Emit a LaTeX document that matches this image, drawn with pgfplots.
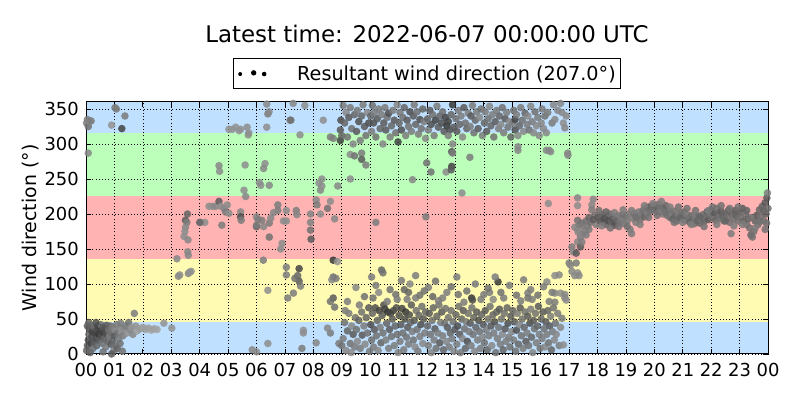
\documentclass[border=0pt]{standalone}
\usepackage{fontspec}
\setmainfont{DejaVu Sans}
\usepackage{pgfplots}
\pgfplotsset{compat=1.18}
\definecolor{bandblue}{RGB}{191,224,255}
\definecolor{bandgreen}{RGB}{187,255,187}
\definecolor{bandred}{RGB}{255,179,179}
\definecolor{bandyellow}{RGB}{255,251,179}
\begin{document}
\begin{tikzpicture}
\path[use as bounding box] (0,0) rectangle (800bp,400bp);
\begin{axis}[
  at={(86bp,46bp)}, anchor=south west, scale only axis,
  width=682bp, height=252bp,
  xmin=0, xmax=24, ymin=0, ymax=360,
  xtick={0,1,...,24},
  xticklabels={00,01,02,03,04,05,06,07,08,09,10,11,12,13,14,15,16,17,18,19,20,21,22,23,00},
  ytick={0,50,...,350},
  axis on top,
  grid=major,
  major grid style={black, line width=0.6bp, dash pattern=on 1bp off 2.2bp},
  tick style={black, line width=0.8bp},
  major tick length=5bp,
  axis line style={black, line width=1bp},
  ticklabel style={font=\fontsize{18}{21}\selectfont, inner sep=1bp},
  xticklabel style={yshift=-8bp},
  yticklabel style={xshift=-6bp},
  /pgf/number format/assume math mode=true,
  ylabel={Wind direction (°)},
  ylabel style={font=\fontsize{19}{22}\selectfont, at={(axis description cs:-0.082,0.5)}, anchor=center},
  colormap={wd}{gray(0cm)=(0.22); gray(1cm)=(0.66)},
  point meta min=0, point meta max=1,
  legend style={at={(0.5,1)}, anchor=south, yshift=13bp, draw=black, line width=1bp,
    font=\fontsize{19.3}{22}\selectfont, inner xsep=5bp, inner ysep=7bp,
    nodes={inner sep=0bp}},
]
\addplot[fill=bandblue, draw=none, forget plot] coordinates {(0,0) (24,0) (24,45) (0,45)} -- cycle;
\addplot[fill=bandyellow, draw=none, forget plot] coordinates {(0,45) (24,45) (24,135) (0,135)} -- cycle;
\addplot[fill=bandred, draw=none, forget plot] coordinates {(0,135) (24,135) (24,225) (0,225)} -- cycle;
\addplot[fill=bandgreen, draw=none, forget plot] coordinates {(0,225) (24,225) (24,315) (0,315)} -- cycle;
\addplot[fill=bandblue, draw=none, forget plot] coordinates {(0,315) (24,315) (24,360) (0,360)} -- cycle;

\addplot[scatter, only marks, point meta=explicit, mark=*, mark size=3.8bp,
  scatter/use mapped color={draw opacity=0, fill=mapped color, fill opacity=0.85},
  legend image code/.code={
    \path[draw=none, fill=none] (-1bp,-2bp) rectangle (57bp,2bp);
    \fill[black, draw=none, fill opacity=1] (0bp,-0.6bp) circle (2bp);
    \fill[black, draw=none, fill opacity=1] (13.5bp,0.6bp) circle (2.7bp);
    \fill[black, draw=none, fill opacity=1] (24bp,-0.6bp) circle (2.3bp);}]
coordinates {
(0.02,5)[.4](0.05,12)[.3](0.08,20)[.2](0.1,28)[.5](0.12,35)[.3](0.15,40)[.6](0.18,15)[.1](0.2,25)[.2](0.22,32)[.1](0.25,8)[.5]
(0.28,18)[.3](0.3,38)[.4](0.33,30)[.1](0.35,22)[.2](0.38,12)[.4](0.4,35)[.2](0.42,40)[.1](0.45,28)[0](0.48,20)[.3](0.5,33)[.1]
(0.52,42)[.5](0.55,25)[.2](0.58,15)[.5](0.6,38)[.3](0.62,30)[.1](0.65,22)[.4](0.68,36)[.2](0.7,10)[.6](0.72,41)[.3](0.75,28)[.2]
(0.78,18)[.4](0.8,34)[.5](0.82,25)[.6](0.85,40)[.4](0.88,14)[.3](0.9,30)[.5](0.92,38)[.6](0.95,20)[.4](0.98,5)[.6](1.0,26)[.3]
(1.02,35)[.7](1.05,12)[.5](1.08,42)[.6](1.1,8)[.4](1.12,30)[.5](1.15,22)[.6](1.18,38)[.7](1.2,15)[.5](1.22,44)[.6](1.25,32)[.8]
(1.28,4)[.5](1.3,26)[.6](1.35,36)[.7](1.4,40)[.6](1.45,30)[.8](1.5,45)[.5](1.55,35)[.7](1.6,38)[.8](1.65,28)[.7](1.7,58)[.6]
(1.75,40)[.8](1.8,33)[.9](1.9,36)[.85](2.0,38)[.9](2.1,35)[.9](2.2,37)[.9](2.3,34)[.95](2.4,36)[.9](2.5,35)[.95](2.74,44)[.8](3.02,37)[.8]
(0.15,2)[.4](0.6,3)[.5](0.9,0)[.3](0.35,45)[.2](0.05,40)[.3](0.1,45)[.4]
(0.02,330)[.6](0.05,335)[.6](0.08,325)[.5](0.12,332)[.7](0.18,333)[.6](0.08,287)[.7]
(0.9,327)[.8](1.02,352)[.6](1.07,350)[.6](1.37,340)[.6](1.26,322)[.1]
(3.2,136)[.7](3.25,111)[.7](3.3,113)[.75](3.6,115)[.7](3.65,117)[.75](3.7,118)[.8]
(3.57,200)[.4](3.5,191)[.3](3.55,188)[.6](3.5,181)[.7](3.48,175)[.75](3.45,168)[.75](3.59,163)[.7](3.58,146)[.7](3.6,141)[.7]
(4.03,188)[.75](4.18,188)[.75](4.0,188)[.4](4.78,184)[.6]
(4.33,211)[.75](4.45,211)[.75](4.56,211)[.7](4.68,218)[.3](4.74,211)[.75](4.86,208)[.7](4.97,213)[.75](4.91,203)[.6](5.03,201)[.75]
(5.44,203)[.7](5.44,196)[.2](5.46,191)[.6](6.0,196)[.7](6.0,182)[.3](6.19,191)[.6]
(4.68,269)[.7](4.7,261)[.75](5.6,270)[.75](5.56,234)[.75](5.62,225)[.7]
(5.03,321)[.8](5.15,321)[.8](5.27,324)[.8](5.39,319)[.8](5.44,321)[.8](5.67,324)[.75](5.73,316)[.8](5.71,313)[.75]
(5.85,6)[.7](6.0,3)[.75]
(6.36,357)[.7](6.4,343)[.6](6.36,324)[.75](7.18,334)[.6](7.7,355)[.75](8.35,334)[.75](7.53,313)[.75](8.6,310)[.6](8.7,308)[.6]
(7.29,358)[.7](7.21,334)[.5](6.44,346)[.7]
(6.3,272)[.75](6.25,265)[.7](6.1,245)[.75](6.15,241)[.75](6.45,241)[.7]
(8.25,234)[.7](8.2,244)[.75](8.3,240)[.75](8.3,250)[.75](8.86,240)[.7]
(9.3,285)[.75](9.45,283)[.5](9.7,287)[.6](9.7,278)[.3](9.85,270)[.6](9.3,250)[.75]
(8.95,305)[.1](8.95,320)[.3](8.97,334)[.2](9.0,312)[.4]
(6.0,184)[.6](6.25,182)[.7](6.45,187)[.6](6.5,194)[.7](6.05,192)[.6](6.45,167)[.5](6.9,158)[.75](6.85,150)[.75](6.24,134)[.6]
(6.75,213)[.6](6.75,205)[.6](7.05,205)[.75](7.05,190)[.75](6.6,202)[.7](6.95,190)[.75]
(7.9,200)[.7](7.9,188)[.65](7.9,177)[.5](7.92,164)[.3](8.25,200)[.75](8.5,208)[.5](8.75,193)[.7](7.4,205)[.6](7.42,199)[.7]
(8.1,220)[.7](8.13,213)[.6](8.6,218)[.75]
(7.05,124)[.6](7.05,113)[.6](7.5,122)[.1](7.45,112)[.4](7.5,104)[.3](7.55,97)[.6](7.35,108)[.5]
(7.3,87)[.6](7.1,80)[.6](6.4,91)[.75]
(8.7,134)[0](8.85,132)[.8](8.7,110)[.5](8.65,106)[.7](8.8,108)[.6]
(8.7,80)[.3](8.6,75)[.5](8.75,67)[.5]
(7.65,34)[.8](7.65,30)[.75](8.6,30)[.6](8.5,37)[.7](8.1,16)[.7](8.9,15)[.6](9.0,12)[.5](7.6,8)[.6](6.4,15)[.75]
(9.05,22)[.6](9.1,45)[.5](9.15,5)[.7](9.2,33)[.4](9.25,58)[.6](9.3,15)[.5](9.35,40)[.7](9.4,28)[.3](9.45,10)[.6](9.48,52)[.5](9.12,62)[.6](9.33,2)[.75]
(9.52,35)[.5](9.55,18)[.7](9.6,48)[.4](9.65,8)[.6](9.7,60)[.5](9.72,27)[.3](9.78,40)[.6](9.82,14)[.7](9.86,52)[.4](9.9,30)[.5](9.95,66)[.3](9.98,4)[.6](9.62,70)[.6]
(10.02,42)[.2](10.05,20)[.5](10.08,58)[.4](10.12,10)[.6](10.15,35)[.3](10.18,66)[.2](10.22,26)[.5](10.25,48)[.4](10.28,5)[.7](10.32,62)[.1](10.35,38)[.6](10.38,16)[.4](10.42,55)[.3](10.45,30)[.5](10.48,70)[.2](10.1,80)[.5](10.3,88)[.7]
(10.52,64)[.1](10.55,20)[.6](10.58,44)[.4](10.62,60)[0](10.65,8)[.6](10.68,35)[.3](10.72,58)[.1](10.75,25)[.5](10.78,50)[.3](10.82,62)[.1](10.85,12)[.6](10.88,40)[.4](10.92,66)[.2](10.95,28)[.5](10.98,2)[.7](10.6,75)[.6](10.9,85)[.5]
(11.02,55)[.2](11.05,18)[.6](11.08,42)[.3](11.12,65)[.1](11.15,30)[.5](11.18,6)[.6](11.22,50)[.2](11.25,60)[0](11.28,24)[.5](11.32,38)[.3](11.35,14)[.6](11.38,56)[.2](11.42,45)[.4](11.45,70)[.3](11.48,32)[.6](11.2,92)[.4](11.3,78)[.6](11.4,100)[.7]
(11.52,20)[.5](11.55,48)[.3](11.58,10)[.7](11.62,62)[.5](11.65,35)[.5](11.68,4)[.6](11.72,55)[.4](11.75,25)[.6](11.78,42)[.2](11.82,68)[.5](11.85,15)[.7](11.88,50)[.3](11.92,30)[.6](11.95,60)[.4](11.6,80)[.6](11.9,90)[.5]
(12.02,40)[.4](12.05,12)[.6](12.08,58)[.3](12.12,28)[.5](12.15,2)[.7](12.18,48)[.5](12.22,66)[.4](12.25,20)[.6](12.28,36)[.3](12.32,8)[.5](12.35,54)[.4](12.38,30)[.6](12.42,70)[.5](12.45,16)[.3](12.48,45)[.6](12.2,82)[.4](12.4,76)[.6]
(12.52,60)[.3](12.55,26)[.6](12.58,6)[.4](12.62,44)[.5](12.65,65)[.5](12.68,18)[.7](12.72,38)[.3](12.75,52)[.5](12.78,10)[.6](12.82,30)[.4](12.85,62)[.5](12.88,22)[.6](12.92,46)[.5](12.95,4)[.7](12.98,35)[.3](12.7,88)[.6]
(13.02,56)[.4](13.05,14)[.6](13.08,40)[.2](13.12,68)[.5](13.15,28)[.3](13.18,2)[.6](13.22,50)[.4](13.25,22)[.7](13.28,62)[.3](13.32,36)[.5](13.35,8)[.4](13.38,46)[.6](13.42,18)[.2](13.45,58)[.5](13.48,32)[.6](13.1,85)[.5](13.3,74)[.6]
(13.52,44)[.3](13.55,12)[.6](13.58,66)[.5](13.62,28)[.5](13.65,52)[.4](13.68,4)[.7](13.72,38)[.4](13.75,60)[.3](13.78,20)[.6](13.82,48)[.2](13.85,32)[.5](13.88,8)[.6](13.92,56)[.4](13.95,24)[.7](13.98,42)[.3](13.57,80)[0](13.6,77)[.2](13.9,78)[.6]
(14.02,16)[.5](14.05,62)[.3](14.08,34)[.6](14.12,6)[.4](14.15,50)[.5](14.18,26)[.6](14.22,68)[.5](14.25,40)[.3](14.28,12)[.7](14.32,56)[.4](14.35,30)[.6](14.38,46)[.2](14.42,2)[.5](14.45,60)[.4](14.48,22)[.6](14.33,78)[.7](14.5,103)[0](14.2,88)[.6]
(14.52,38)[.5](14.55,64)[.3](14.58,14)[.6](14.62,50)[.5](14.65,28)[.7](14.68,6)[.4](14.72,58)[.5](14.75,36)[.3](14.78,18)[.6](14.82,66)[.4](14.85,44)[.2](14.88,24)[.6](14.92,10)[.5](14.95,54)[.3](14.98,32)[.7](14.7,80)[.6]
(15.02,62)[.4](15.05,20)[.6](15.08,46)[.3](15.12,4)[.5](15.15,34)[.2](15.18,58)[.6](15.22,14)[.4](15.25,42)[.7](15.28,66)[.3](15.32,26)[.5](15.35,50)[.5](15.38,8)[.6](15.42,38)[.4](15.45,60)[.5](15.48,18)[.3](15.55,87)[.6](15.55,80)[.5](15.3,76)[.6]
(15.52,30)[.6](15.55,54)[.3](15.58,12)[.5](15.62,44)[.2](15.65,64)[.6](15.68,24)[.4](15.72,2)[.7](15.75,48)[.3](15.78,36)[.5](15.82,58)[.5](15.85,16)[.6](15.88,40)[.4](15.92,68)[.3](15.95,28)[.6](15.98,8)[.5](15.7,78)[.6]
(16.02,50)[.4](16.05,22)[.6](16.08,60)[.3](16.12,36)[.5](16.15,10)[.7](16.18,46)[.3](16.22,28)[.6](16.25,62)[.4](16.28,16)[.5](16.32,40)[.3](16.35,54)[.6](16.38,6)[.4](16.42,32)[.6](16.45,66)[.5](16.48,20)[.7](16.22,103)[.7](16.3,75)[.6]
(16.52,44)[.5](16.55,28)[.7](16.6,58)[.6](16.65,12)[.6](16.7,38)[.7](16.75,51)[.6](16.8,13)[.75](16.5,112)[.75](16.65,113)[.7](16.5,87)[.7](16.7,87)[.75](16.85,85)[.7](16.5,74)[.6](16.85,80)[.7](16.9,77)[.75]
(9.2,75)[.6](9.5,95)[.7](9.8,82)[.5](10.05,110)[.6](10.4,120)[.4](10.45,116)[.5](10.2,98)[.6](10.7,92)[.5](10.95,78)[.6](11.1,105)[.6](11.35,88)[.4](11.6,112)[.6](11.75,84)[.5](12.05,95)[.6](12.3,104)[.5](12.55,80)[.6]
(12.85,96)[.5](13.05,110)[.6](13.4,90)[.5](13.7,100)[.6](14.0,85)[.6](14.15,94)[.5](14.4,110)[.6](14.6,88)[.5](14.9,98)[.6](15.15,84)[.5](15.4,106)[.6](15.65,92)[.6](15.9,84)[.5](16.1,96)[.6](16.4,88)[.6]
(9.05,355)[.6](9.1,330)[.4](9.15,345)[.7](9.2,310)[.5](9.25,338)[.3](9.3,352)[.6](9.35,322)[.5](9.4,300)[.7](9.45,342)[.4]
(9.52,318)[.3](9.55,348)[.6](9.6,332)[.2](9.65,305)[.6](9.7,340)[.4](9.75,356)[.6](9.8,325)[.3](9.85,312)[.5](9.9,345)[.7](9.95,330)[.2]
(10.02,340)[.4](10.05,318)[.6](10.08,355)[.5](10.12,330)[.2](10.15,345)[.6](10.2,310)[.5](10.25,336)[.3](10.3,350)[.6](10.35,322)[.4](10.4,342)[.6](10.45,300)[.7](10.48,330)[.3]
(10.52,352)[.6](10.55,320)[.3](10.6,338)[.5](10.65,344)[.2](10.7,310)[.6](10.75,326)[.4](10.8,348)[.6](10.85,334)[.3](10.9,316)[.5](10.95,356)[.7](10.98,303)[.1]
(11.02,330)[.4](11.05,345)[.6](11.1,320)[.2](11.15,338)[.5](11.2,352)[.4](11.25,312)[.6](11.3,334)[.3](11.35,325)[.5](11.4,346)[.2](11.45,318)[.6]
(11.52,340)[.3](11.55,356)[.6](11.6,328)[.4](11.65,346)[.5](11.7,314)[.6](11.75,335)[.2](11.8,322)[.5](11.85,350)[.4](11.9,332)[.6](11.95,308)[.7]
(12.02,336)[.4](12.05,320)[.6](12.1,348)[.3](12.15,328)[.2](12.2,342)[.5](12.25,312)[.6](12.3,334)[.1](12.35,354)[.6](12.4,324)[.3](12.45,340)[.4]
(12.52,330)[.2](12.55,346)[.5](12.6,318)[.3](12.65,338)[.1](12.7,326)[0](12.75,332)[.1](12.8,320)[.2](12.85,342)[.4](12.9,356)[0](12.95,324)[.3](12.75,312)[.6](12.9,300)[.7]
(13.02,336)[.5](13.05,318)[.3](13.1,348)[.6](13.15,328)[.4](13.2,340)[.6](13.25,310)[.7](13.3,352)[.3](13.35,330)[.5](13.4,322)[.4](13.45,344)[.6]
(13.52,325)[.6](13.55,340)[.3](13.6,355)[.6](13.65,316)[.5](13.7,334)[.4](13.75,346)[.6](13.8,322)[.3](13.85,338)[.7](13.9,350)[.5](13.95,312)[.6]
(14.02,330)[.4](14.05,346)[.6](14.1,318)[.3](14.15,336)[.5](14.2,354)[.7](14.25,326)[.4](14.3,342)[.6](14.35,310)[.5](14.4,332)[.3](14.45,348)[.6]
(14.52,322)[.6](14.55,340)[.4](14.6,328)[.7](14.65,352)[.5](14.7,316)[.6](14.75,336)[.3](14.8,345)[.6](14.85,324)[.5](14.9,332)[.7](14.95,310)[.4]
(15.02,330)[.6](15.05,348)[.5](15.1,335)[.1](15.1,320)[.2](15.15,342)[.6](15.2,312)[.7](15.2,296)[.7](15.25,326)[.4](15.3,352)[.6](15.35,334)[.5](15.4,318)[.7](15.45,344)[.4]
(15.52,328)[.6](15.55,340)[.7](15.6,320)[.5](15.65,354)[.7](15.7,332)[.6](15.75,316)[.7](15.8,346)[.5](15.85,326)[.7](15.9,338)[.6](15.95,312)[.7]
(16.02,330)[.7](16.05,350)[.6](16.1,322)[.7](16.15,340)[.5](16.2,316)[.7](16.25,345)[.6](16.3,291)[.7](16.35,289)[.7](16.4,330)[.6](16.45,356)[.7]
(16.5,335)[.7](16.6,348)[.7](16.7,358)[.7](16.75,345)[.7](16.8,330)[.75](16.85,323)[.7](16.9,340)[.7](16.95,287)[.7](16.96,284)[.7]
(11.99,273)[.5](12.14,260)[.5](11.49,249)[.7](12.67,260)[.75](12.87,289)[.2](12.9,287)[.6](12.87,268)[.1](12.85,263)[.3](13.51,281)[.6](13.23,230)[.75](11.96,196)[.6](10.2,188)[.6](15.2,291)[.7](16.2,291)[.7]
(17.0,130)[.6](17.05,127)[.7](17.1,118)[.7](17.2,112)[.7](17.25,130)[.6](17.3,116)[.75](17.35,112)[.7](17.1,153)[.6](17.15,146)[.7](17.25,144)[.3](17.3,160)[.7](17.4,153)[.3](17.45,160)[.6]
(17.3,178)[.7](17.32,174)[.7](17.2,181)[.7](17.4,167)[.6](17.45,171)[.7](17.3,191)[.5](17.35,185)[.6](17.45,187)[.5](17.48,183)[.6](17.3,212)[.75](17.3,223)[.7](16.27,215)[.75]
(17.55,175)[.6](17.6,190)[.5](17.65,182)[.6](17.7,195)[.4](17.75,188)[.5](17.8,213)[.7](17.8,206)[.6](17.85,221)[.7](17.9,198)[.5](17.95,185)[.6](17.6,170)[.6](17.7,178)[.6](17.85,192)[.3]
(18.02,195)[.3](18.1,190)[.3](18.15,199)[.4](18.2,188)[.3](18.25,194)[.2](18.3,185)[.4](18.35,197)[.3](18.4,190)[.2](18.45,200)[.5](18.5,187)[.4](18.55,193)[.3](18.6,184)[.2](18.65,196)[.5](18.7,190)[.4](18.75,198)[.6](18.8,188)[.5](18.85,193)[.6](18.9,199)[.5](18.95,186)[.6]
(19.0,196)[.5](19.05,190)[.6](19.1,200)[.6](19.15,178)[.6](19.2,172)[.6](19.25,194)[.6](19.3,201)[.5](19.35,188)[.6](19.4,197)[.5](19.45,203)[.6](19.5,192)[.5](19.55,199)[.6](19.6,205)[.5](19.65,196)[.4](19.7,208)[.5](19.75,201)[.6](19.8,210)[.4](19.85,204)[.5](19.9,211)[.4](19.95,206)[.5]
(20.0,212)[.4](20.05,205)[.5](20.1,209)[.4](20.15,214)[.5](20.2,203)[.6](20.25,210)[.5](20.3,200)[.6](20.35,207)[.5](20.4,212)[.4](20.45,198)[.5](20.5,205)[.4](20.55,195)[.5](20.6,201)[.6](20.65,193)[.4](20.7,204)[.5](20.75,196)[.4](20.8,190)[.5](20.85,200)[.6](20.9,194)[.4](20.95,202)[.5]
(21.0,196)[.4](21.05,203)[.5](21.1,191)[.4](21.15,199)[.6](21.2,194)[.5](21.25,188)[.4](21.3,198)[.5](21.35,192)[.4](21.4,186)[.5](21.45,195)[.6](21.5,190)[.4](21.55,197)[.5](21.6,187)[.4](21.65,193)[.6](21.7,199)[.5](21.75,190)[.4](21.8,196)[.5](21.85,203)[.4](21.9,192)[.3](21.95,199)[.5]
(22.0,205)[.4](22.05,196)[.5](22.1,202)[.3](22.15,191)[.4](22.2,208)[.5](22.25,199)[.4](22.3,193)[.5](22.35,204)[.3](22.4,197)[.4](22.45,190)[.5](22.5,200)[.4](22.55,194)[.5](22.6,205)[.4](22.65,188)[.5](22.7,172)[.6](22.75,199)[.4](22.8,193)[.5](22.85,205)[.3](22.9,197)[.4](22.95,190)[.5]
(23.0,202)[.4](23.05,195)[.5](23.1,208)[.3](23.15,190)[.4](23.2,200)[.5](23.25,185)[.5](23.3,193)[.4](23.35,180)[.5](23.4,170)[.4](23.45,167)[.5](23.5,175)[.5](23.55,190)[.4](23.6,198)[.3](23.65,185)[.5](23.7,206)[.4](23.75,196)[.5](23.8,211)[.4](23.85,190)[.5](23.9,216)[.3](23.93,200)[.4](23.96,223)[.3](23.98,230)[.6](24.0,208)[.5](23.95,187)[.5]
(18.05,205)[.5](18.15,183)[.6](18.3,203)[.4](18.45,180)[.5](18.6,202)[.6](18.75,182)[.5](18.9,206)[.6](19.05,182)[.5](19.2,205)[.6](19.35,195)[.5](19.5,185)[.6](19.65,212)[.6](19.8,195)[.5](19.95,215)[.6]
(20.1,198)[.5](20.25,218)[.6](20.4,202)[.5](20.55,210)[.6](20.7,188)[.5](20.85,210)[.5](21.0,188)[.6](21.15,208)[.5](21.3,185)[.6](21.45,205)[.5](21.6,196)[.4](21.75,182)[.5](21.9,205)[.6]
(22.05,210)[.5](22.2,185)[.6](22.35,212)[.5](22.5,190)[.4](22.65,208)[.5](22.8,183)[.6](22.95,210)[.5](23.1,185)[.6](23.25,205)[.4](23.4,195)[.5](23.55,180)[.6](23.7,190)[.5](23.85,205)[.4](23.9,178)[.5]
};
\addlegendentry{Resultant wind direction (207.0°)}
\end{axis}
\node[anchor=base, font=\fontsize{23}{27}\selectfont] at (427bp,357bp) {Latest time: 2022-06-07 00:00:00 UTC};
\end{tikzpicture}
\end{document}
